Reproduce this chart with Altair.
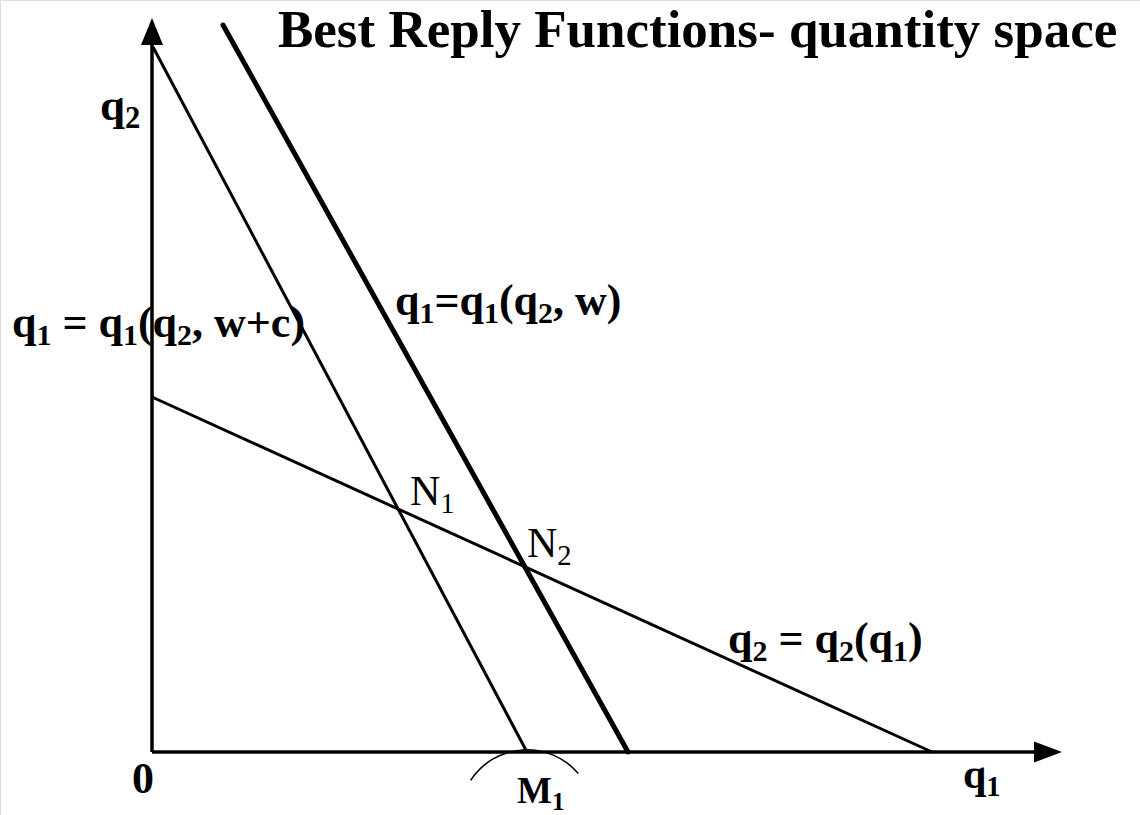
import altair as alt
import pandas as pd

# Coordinates in plot units (1 unit = 10 px); origin where the axes meet.
# Best-reply lines: start point and end point of each.
reply_thin = {"q1": [0.1, 37.5], "q2": [70.5, 0.0]}     # q1 = q1(q2, w+c)
reply_thick = {"q1": [7.1, 47.6], "q2": [72.7, 0.0]}    # q1 = q1(q2, w)
reply_firm2 = {"q1": [0.0, 78.0], "q2": [35.5, 0.0]}    # q2 = q2(q1)

# Axis shafts and arrow heads
axis_y = {"q1": [0.0, 0.0], "q2": [0.0, 70.7]}
axis_x = {"q1": [0.0, 88.2], "q2": [0.0, 0.0]}
arrow_up = {"q1": [0.0], "q2": [72.05]}
arrow_right = {"q1": [89.6], "q2": [0.0]}

# Small arc under M1
arc_center = {"q1": [37.5], "q2": [-6.5]}

# Labels as runs of (text, is_subscript), with anchor, font size and weight
label_runs = [
    [("Best Reply Functions- quantity space", False)],
    [("q", False), ("2", True)],
    [("q", False), ("1", True), (" = q", False), ("1", True), ("(q", False), ("2", True), (", w+c)", False)],
    [("q", False), ("1", True), ("=q", False), ("1", True), ("(q", False), ("2", True), (", w)", False)],
    [("q", False), ("2", True), (" = q", False), ("2", True), ("(q", False), ("1", True), (")", False)],
    [("0", False)],
    [("M", False), ("1", True)],
    [("q", False), ("1", True)],
    [("N", False), ("1", True)],
    [("N", False), ("2", True)],
]
label_x = [12.6, -5.2, -14.0, 24.3, 57.6, -2.0, 36.5, 81.1, 25.8, 37.5]
label_y = [70.5, 63.2, 41.5, 43.7, 9.9, -4.1, -5.1, -3.6, 24.7, 19.5]
label_size = [53, 45, 44, 44, 44, 44, 37, 42, 42, 42]
label_bold = [True, True, True, True, True, True, True, True, False, False]

FONT = "Liberation Serif"

# Times-compatible advance widths (per 1000 em) used to place subscript runs
ADV_BOLD = {"q": 556, "1": 500, "2": 500, "0": 500, "=": 570, "(": 333, ")": 333,
            ",": 250, " ": 250, "w": 722, "+": 570, "c": 444, "M": 944, "N": 722}
ADV_REG = {"N": 722, "1": 500, "2": 500}
SUB_SCALE = 0.68
SUB_DROP = 0.18
PX_PER_UNIT = 10.0


def advance(txt, adv, size):
    return sum(adv.get(ch, 500) for ch in txt) / 1000.0 * size / PX_PER_UNIT


def layout_runs():
    rows = []
    for runs, x0, y0, fs, bold in zip(label_runs, label_x, label_y, label_size, label_bold):
        adv = ADV_BOLD if bold else ADV_REG
        x = x0
        for txt, sub in runs:
            s = fs * SUB_SCALE if sub else fs
            y = y0 - (SUB_DROP * fs / PX_PER_UNIT if sub else 0.0)
            # leading blanks are skipped as an offset (SVG would collapse them)
            body = txt.lstrip(" ")
            x += advance(txt[: len(txt) - len(body)], adv, s)
            rows.append({"label": body, "q1": x, "q2": y, "fs": s,
                         "weight": "bold" if bold else "normal"})
            x += advance(body, adv, s)
    return pd.DataFrame(rows)


xs = alt.Scale(domain=[-15.2, 98.8], nice=False, zero=False)
ys = alt.Scale(domain=[-6.3, 75.2], nice=False, zero=False)


def X():
    return alt.X("q1:Q", scale=xs, axis=None)


def Y():
    return alt.Y("q2:Q", scale=ys, axis=None)


def seg(d, width, cap="butt"):
    return alt.Chart(pd.DataFrame(d)).mark_line(
        color="black", strokeWidth=width, strokeCap=cap
    ).encode(x=X(), y=Y())


layers = [
    seg(axis_y, 3.5),
    seg(axis_x, 3.5),
    seg(reply_thin, 3.0),
    seg(reply_thick, 5.0, "round"),
    seg(reply_firm2, 3.0),
    alt.Chart(pd.DataFrame(arrow_up)).mark_point(
        shape="M0,-1L0.815,1L-0.815,1Z", size=729, filled=True,
        color="black", opacity=1
    ).encode(x=X(), y=Y()),
    alt.Chart(pd.DataFrame(arrow_right)).mark_point(
        shape="M1,0L-1,-0.75L-1,0.75Z", size=784, filled=True,
        color="black", opacity=1
    ).encode(x=X(), y=Y()),
    alt.Chart(pd.DataFrame(arc_center)).mark_arc(
        theta=5.288, theta2=7.152, radius=68, radius2=66.5, color="black"
    ).encode(x=X(), y=Y()),
]

text_df = layout_runs()
for w in ["bold", "normal"]:
    layers.append(
        alt.Chart(text_df[text_df["weight"] == w]).mark_text(
            font=FONT, fontWeight=w, align="left", baseline="alphabetic", color="black"
        ).encode(x=X(), y=Y(), text="label:N",
                 size=alt.Size("fs:Q", scale=None, legend=None))
    )

chart = alt.layer(*layers).properties(
    width=1140, height=815, autosize=alt.AutoSizeParams(type="none"), padding=0
).configure_view(stroke=None).configure(background="white")

chart.save("out.html", embed_options={"renderer": "svg", "actions": False})
